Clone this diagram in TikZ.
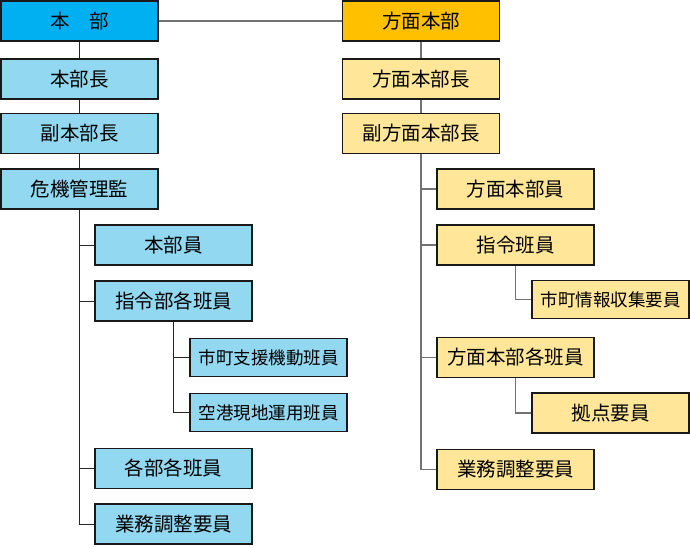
\documentclass[tikz,border=0pt]{standalone}
\usepackage{fontspec}
\newfontfamily\jp{Noto Sans CJK JP}
\definecolor{hqblue}{HTML}{00B0F0}
\definecolor{ltblue}{HTML}{92D8F0}
\definecolor{hqorange}{HTML}{FFC000}
\definecolor{ltyellow}{HTML}{FFE699}
\tikzset{
  box/.style={draw=black!90, line width=1.8pt, minimum width=157pt, inner sep=0pt, font=\jp\fontsize{19.5}{21}\selectfont},
  bigbox/.style={box, minimum height=40pt},
  smallbox/.style={box, minimum height=38pt, font=\jp\fontsize{17.5}{19}\selectfont},
  blue/.style={fill=ltblue},
  yel/.style={fill=ltyellow},
  lline/.style={draw=black!85, line width=1pt},
  rline/.style={draw=black!55, line width=1.6pt},
}
\begin{document}
\begin{tikzpicture}[x=1pt,y=-1pt]
\useasboundingbox (0,0) rectangle (690,547);
% left column
\node[bigbox, fill=hqblue] (hq) at (79.5,21) {本　部};
\node[bigbox, blue] (hqc) at (79.5,79) {本部長};
\node[bigbox, blue] (hqv) at (79.5,133.5) {副本部長};
\node[bigbox, blue] (kiki) at (79.5,189) {危機管理監};
\node[bigbox, blue] (hqm) at (173.5,245) {本部員};
\node[bigbox, blue] (shirei) at (173.5,301) {指令部各班員};
\node[smallbox, blue] (shien) at (268.5,357.5) {市町支援機動班員};
\node[smallbox, blue] (kuko) at (268.5,412.5) {空港現地運用班員};
\node[bigbox, blue] (kakubu) at (173.5,468.5) {各部各班員};
\node[bigbox, blue] (gyomuL) at (173.5,524) {業務調整要員};
% right column
\node[bigbox, fill=hqorange] (rhq) at (421,21) {方面本部};
\node[bigbox, yel] (rhqc) at (421,79) {方面本部長};
\node[bigbox, yel] (rhqv) at (421,133.5) {副方面本部長};
\node[bigbox, yel] (rhqm) at (515.5,189) {方面本部員};
\node[bigbox, yel] (rshirei) at (515.5,245) {指令班員};
\node[smallbox, yel] (joho) at (610.5,299.5) {市町情報収集要員};
\node[bigbox, yel] (rkaku) at (515.5,357.5) {方面本部各班員};
\node[bigbox, yel] (kyoten) at (610.5,413) {拠点要員};
\node[bigbox, yel] (gyomuR) at (515.5,469.5) {業務調整要員};
% connectors
\draw[rline, line width=1.2pt] (hq.east) -- (rhq.west);
\draw[lline] (hq.south) -- (hqc.north);
\draw[lline] (hqc.south) -- (hqv.north);
\draw[lline] (hqv.south) -- (kiki.north);
\draw[lline] (kiki.south) |- (hqm.west);
\draw[lline] (kiki.south) |- (shirei.west);
\draw[lline] (kiki.south) |- (kakubu.west);
\draw[lline] (kiki.south) |- (gyomuL.west);
\draw[lline] (shirei.south) |- (shien.west);
\draw[lline] (shirei.south) |- (kuko.west);
\draw[rline] (rhq.south) -- (rhqc.north);
\draw[rline] (rhqc.south) -- (rhqv.north);
\draw[rline] (rhqv.south) |- (rhqm.west);
\draw[rline] (rhqv.south) |- (rshirei.west);
\draw[rline] (rhqv.south) |- (rkaku.west);
\draw[rline] (rhqv.south) |- (gyomuR.west);
\draw[rline] (rshirei.south) |- (joho.west);
\draw[rline] (rkaku.south) |- (kyoten.west);
\end{tikzpicture}
\end{document}
